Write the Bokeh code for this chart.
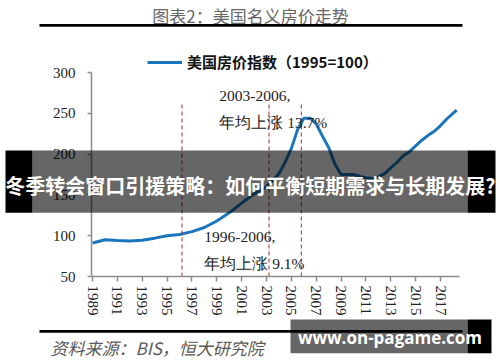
from bokeh.plotting import figure
from bokeh.models import (ColumnDataSource, Range1d, FixedTicker, Label,
                          BoxAnnotation, Legend, LegendItem)
from bokeh.embed import file_html
from bokeh.resources import INLINE

# ---------------- data ----------------
years = [1989.0, 1990.0, 1991.0, 1992.0, 1993.0, 1994.0, 1995.0, 1996.0, 1997.0,
         1998.0, 1999.0, 2000.0, 2001.0, 2002.0, 2003.0, 2004.0, 2004.5, 2005.0,
         2005.5, 2006.0, 2006.5, 2007.0, 2007.5, 2008.0, 2008.5, 2009.0, 2009.5,
         2010.0, 2010.5, 2011.0, 2011.5, 2012.0, 2012.5, 2013.0, 2013.5, 2014.0,
         2014.5, 2015.0, 2015.5, 2016.0, 2016.5, 2017.0, 2017.5, 2018.0, 2018.3]
house_index = [91, 95, 94, 93.5, 94.5, 97, 100, 101.5, 105,
               110, 118, 128, 140, 151, 160, 176, 190, 207,
               230, 244, 244, 237, 222, 208, 188, 175, 175,
               175, 172.5, 171, 170, 172, 176, 183, 190, 198,
               203, 210, 217, 223, 228, 235, 243, 250, 254]
x_ticks = [1989, 1991, 1993, 1995, 1997, 1999, 2001, 2003, 2005, 2007,
           2009, 2011, 2013, 2015, 2017]
y_ticks = [50, 100, 150, 200, 250, 300]
period_marks = [1996.2, 2003.2, 2005.8]

title_text = "图表2：美国名义房价走势"
legend_text = "美国房价指数（1995=100）"
note_a1 = "2003-2006,"
note_a2 = "年均上涨 13.7%"
note_b1 = "1996-2006,"
note_b2 = "年均上涨 9.1%"
source_text = "资料来源：BIS，恒大研究院"
banner_text = "冬季转会窗口引援策略：如何平衡短期需求与长期发展?"
watermark_text = "www.on-pagame.com"

LINE_COLOR = "#1A75BC"
AXIS_COLOR = "#8C8C8C"
SERIF = "Liberation Serif"
CJK = "Noto Sans CJK SC"

W, H = 500, 362
# data window: 12.43 px per year, 1989 at x=92; 0.816 px per unit, 50 at y=276
X0 = 1989 - 92 / 12.43
Y_TOP = 50 + 276 / 0.816
Y_BOT = 50 - (H - 276) / 0.816

p = figure(width=W, height=H, output_backend="svg", toolbar_location=None,
           tools="", x_range=Range1d(X0, X0 + W / 12.43),
           y_range=Range1d(Y_BOT, Y_TOP),
           min_border=0, min_border_left=0, min_border_right=0,
           min_border_top=0, min_border_bottom=0,
           background_fill_color="white", border_fill_color="white")
p.outline_line_color = None
p.grid.visible = False

p.xaxis.ticker = FixedTicker(ticks=x_ticks)
p.yaxis.ticker = FixedTicker(ticks=y_ticks)
p.xaxis.fixed_location = 50
p.yaxis.fixed_location = 1988.92
p.xaxis.bounds = (1988.92, 2018.53)
p.yaxis.bounds = (50, 300)
for ax in (p.xaxis, p.yaxis):
    ax.axis_line_color = AXIS_COLOR
    ax.axis_line_width = 1.5
    ax.major_tick_line_color = AXIS_COLOR
    ax.major_tick_line_width = 1.5
    ax.minor_tick_line_color = None
    ax.major_tick_in = 0
    ax.major_label_text_font = SERIF
    ax.major_label_text_font_size = "15px"
    ax.major_label_text_color = "#222222"
p.yaxis.major_tick_out = 4
p.yaxis.major_label_standoff = 12
p.xaxis.major_tick_out = 5
p.xaxis.major_label_standoff = 4
p.xaxis.major_label_orientation = "vertical"

src = ColumnDataSource(dict(x=years, y=house_index))
line_r = p.line("x", "y", source=src, line_color=LINE_COLOR, line_width=3)

p.segment(x0=period_marks, y0=[50] * 3, x1=period_marks, y1=[262] * 3,
          line_color="#A52A2A", line_width=1, line_dash="4 3")

# legend
legend = Legend(items=[LegendItem(label=legend_text, renderers=[line_r])],
                location=(147, 290), glyph_width=35, glyph_height=20,
                label_height=20, label_standoff=5, padding=0, margin=0,
                border_line_alpha=0, background_fill_alpha=0,
                label_text_font=CJK, label_text_font_size="15px",
                label_text_font_style="bold", label_text_color="#111111")
p.add_layout(legend, "center")

# annotations in the chart
for txt, xx, yy in [(note_a1, 1999.2, 270.6), (note_a2, 1999.2, 238.7),
                    (note_b1, 1998.0, 99.0), (note_b2, 1998.0, 66.3)]:
    p.add_layout(Label(x=xx, y=yy, text=txt, text_font=SERIF,
                       text_font_size="15.5px", text_color="#222222",
                       text_baseline="middle", text_align="left"))


def cbox(l, r, t, b, alpha, level="annotation"):
    return BoxAnnotation(left=l, right=r, top=t, bottom=b,
                         left_units="canvas", right_units="canvas",
                         top_units="canvas", bottom_units="canvas",
                         fill_color="black", fill_alpha=alpha, line_alpha=0,
                         level=level)


# title and rules
p.add_layout(Label(x=250, y=15, x_units="canvas", y_units="canvas", text=title_text,
                   text_font=CJK, text_font_size="17px", text_color="#666666",
                   text_align="center", text_baseline="middle"))
p.add_layout(cbox(39, 462, 23.5, 26.3, 1.0))
p.add_layout(cbox(39, 462, 329.5, 332.2, 1.0))
p.add_layout(Label(x=50, y=346.7, x_units="canvas", y_units="canvas", text=source_text,
                   text_font=CJK, text_font_size="17px", text_font_style="italic",
                   text_color="#595959", text_align="left", text_baseline="middle"))

# overlay banner
p.add_layout(cbox(32, 467, 150, 212.3, 0.6, "overlay"))
p.add_layout(cbox(5, 32, 150, 212.3, 1.0, "overlay"))
p.add_layout(cbox(467, 495, 150, 212.3, 1.0, "overlay"))
p.add_layout(Label(x=250, y=185, x_units="canvas", y_units="canvas", text=banner_text,
                   text_font=CJK, text_font_size="20px", text_font_style="bold",
                   text_color="white", text_align="center", text_baseline="middle",
                   level="overlay"))

# watermark
p.add_layout(cbox(290, 467, 319, 352.7, 0.6, "overlay"))
p.add_layout(cbox(467, 491, 319, 352.7, 1.0, "overlay"))
p.add_layout(Label(x=389.5, y=336.7, x_units="canvas", y_units="canvas",
                   text=watermark_text, text_font="Open Sans",
                   text_font_size="17px", text_font_style="bold",
                   text_color="white", text_align="center", text_baseline="middle",
                   level="overlay"))

open("out.html", "w").write(file_html(p, INLINE))
